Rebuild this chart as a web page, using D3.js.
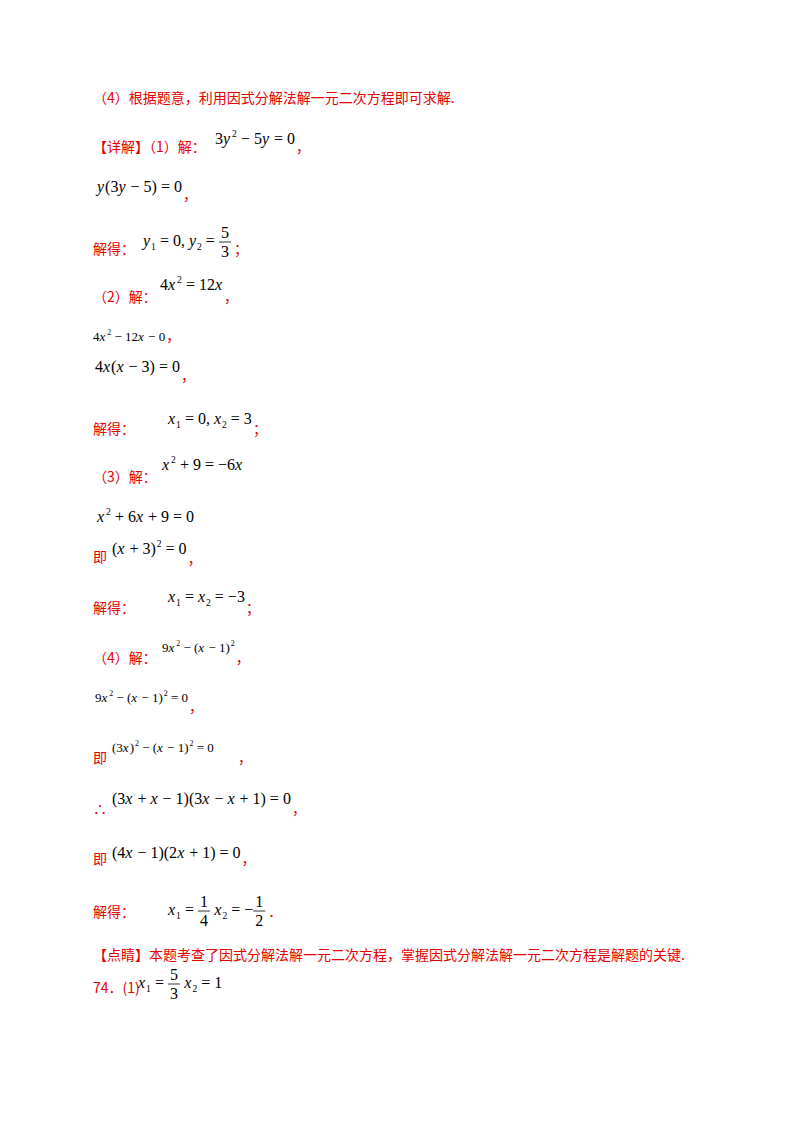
<!DOCTYPE html>
<html><head><meta charset="utf-8">
<script src="https://cdn.jsdelivr.net/npm/d3@7"></script>
<style>
body{margin:0;background:#fff}
.cn{font-family:"Noto Sans CJK SC";font-size:14px;fill:#e60000}
.m{font-family:"Liberation Serif",serif;font-size:16px;fill:#000;white-space:pre}
</style></head><body>
<script>
// math pieces: plain string, "_x" italic var, "^2" sup, ",1" sub, ["a","b"] fraction
var texts = [
  "（4）根据题意，利用因式分解法解一元二次方程即可求解.",
  "【详解】（1）解：", "解得：", "（2）解：", "（3）解：", "（4）解：", "即", "∴",
  "【点睛】本题考查了因式分解法解一元二次方程，掌握因式分解法解一元二次方程是解题的关键.",
  "74．(1)"
];
// each line: cn = [x, y, text], m = [x, y, parts, fontSize], p = trailing punctuation [x, y, char]
var lines = [
  {cn:[[93,103,texts[0]]]},
  {cn:[[93,152,texts[1]]], p:[288,152,"，"], m:[215,144,["3","_y","^2"," − 5","_y"," = 0"]]},
  {cn:[], p:[175,200,"，"], m:[97,192,["_y","(3","_y"," − 5) = 0"]]},
  {cn:[[93,254,texts[2]]], p:[233,254,"；"], m:[143,246,["_y",",1"," = 0, ","_y",",2"," = ",["5","3"]]]},
  {cn:[[93,302,texts[3]]], p:[222,302,"，"], m:[160,290,["4","_x","^2"," = 12","_x"]]},
  {cn:[], p:[165,341,"，"], m:[93,341,["4","_x","^2"," − 12","_x"," − 0"],13]},
  {cn:[], p:[175,381,"，"], m:[95,372,["4","_x","(","_x"," − 3) = 0"]]},
  {cn:[[93,434,texts[2]]], p:[212,434,"；"], m:[168,424,["_x",",1"," = 0, ","_x",",2"," = 3"]]},
  {cn:[[93,482,texts[4]]], m:[162,470,["_x","^2"," + 9 = −6","_x"]]},
  {cn:[], m:[97,522,["_x","^2"," + 6","_x"," + 9 = 0"]]},
  {cn:[[93,562,texts[6]]], p:[178,564,"，"], m:[112,554,["(","_x"," + 3)","^2"," = 0"]]},
  {cn:[[93,613,texts[2]]], p:[212,613,"；"], m:[168,602,["_x",",1"," = ","_x",",2"," = −3"]]},
  {cn:[[93,663,texts[5]]], p:[228,663,"，"], m:[162,652,["9","_x","^2"," − (","_x"," − 1)","^2"],13]},
  {cn:[], p:[186,712,"，"], m:[95,702,["9","_x","^2"," − (","_x"," − 1)","^2"," = 0"],13]},
  {cn:[[93,763,texts[6]]], p:[238,763,"，"], m:[112,752,["(3","_x",")","^2"," − (","_x"," − 1)","^2"," = 0"],13]},
  {cn:[[93,814,texts[7]]], p:[262,814,"，"], m:[112,804,["(3","_x"," + ","_x"," − 1)(3","_x"," − ","_x"," + 1) = 0"]]},
  {cn:[[93,864,texts[6]]], p:[225,864,"，"], m:[112,858,["(4","_x"," − 1)(2","_x"," + 1) = 0"]]},
  {cn:[[93,917,texts[2]]], p:[230,917,"．"], m:[168,915,["_x",",1"," = ",["1","4"],", ","_x",",2"," = −",["1","2"]]]},
  {cn:[[93,960,texts[8]]]},
  {cn:[[93,993,texts[9]]], m:[138,988,["_x",",1"," = ",["5","3"],", ","_x",",2"," = 1"]]}
];

var svg = d3.select("body").append("svg").attr("width",800).attr("height",1132);

lines.forEach(function(l){
  l.cn.forEach(function(c){
    svg.append("text").attr("class","cn").attr("x",c[0]).attr("y",c[1]).text(c[2]);
  });
  var end = 0;
  if (l.m) end = drawMath(l.m[0], l.m[1], l.m[2], l.m[3] || 16);
  if (l.p) svg.append("text").attr("class","cn").attr("x",Math.max(l.p[0], end + 1)).attr("y",l.p[1]).text(l.p[2]);
});

function drawMath(x,y,parts,fs){
  parts.forEach(function(p){
    if (Array.isArray(p)) {
      var g = svg.append("g");
      var a = g.append("text").attr("class","m").style("font-size",fs+"px").attr("text-anchor","middle").text(p[0]);
      var b = g.append("text").attr("class","m").style("font-size",fs+"px").attr("text-anchor","middle").text(p[1]);
      var w = Math.max(a.node().getComputedTextLength(), b.node().getComputedTextLength()) + 4;
      a.attr("x",x+w/2).attr("y",y-8);
      b.attr("x",x+w/2).attr("y",y+11);
      g.append("line").attr("x1",x).attr("x2",x+w).attr("y1",y-4).attr("y2",y-4).attr("stroke","#000").attr("stroke-width",0.8);
      x += w+2;
      return;
    }
    var t = svg.append("text").attr("class","m").style("font-size",fs+"px");
    var k = p[0];
    if (k==="_") { t.style("font-style","italic").attr("x",x).attr("y",y).text(p.slice(1)); }
    else if (k==="^") { t.style("font-size",(fs*0.6)+"px").attr("x",x+1).attr("y",y-fs*0.45).text(p.slice(1)); }
    else if (k==="," && p.length===2) { t.style("font-size",(fs*0.6)+"px").attr("x",x).attr("y",y+fs*0.25).text(p.slice(1)); }
    else { t.attr("x",x).attr("y",y).text(p); }
    x += t.node().getComputedTextLength() + (k==="_"||k==="^" ? 1 : 0);
  });
  return x;
}
</script>
</body></html>
